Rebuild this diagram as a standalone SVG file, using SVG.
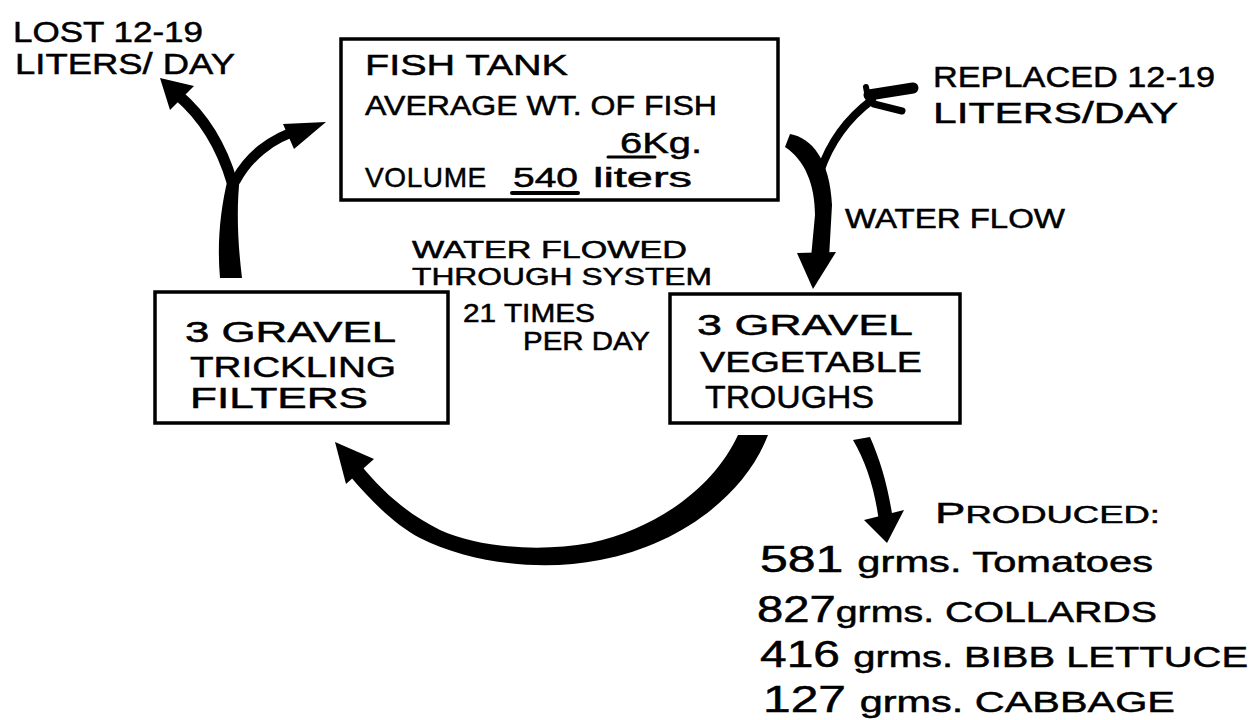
<svg xmlns="http://www.w3.org/2000/svg" width="1255" height="720" viewBox="0 0 1255 720">
<style>
  .box { fill: #fff; stroke: #000; stroke-width: 3.5; }
  .t { font-family: "Liberation Sans", Arial, sans-serif; fill: #000; stroke: #000; stroke-width: 0.5; }
  .ink { fill: #000; stroke: none; }
  .line { fill: none; stroke: #000; stroke-linecap: round; }
</style>
<rect x="0" y="0" width="1255" height="720" fill="#fff"/>

<g id="connectors">
  <!-- filters up to tank, with loss branch -->
  <path class="ink" d="M220,278 L242,278 C238,245 236,210 240,176 L228,178 C220,210 217,245 220,278 Z"/>
  <path class="line" stroke-width="11" d="M232,182 C222,148 205,118 178,95"/>
  <polygon class="ink" points="160,78 194,86 170,110"/>
  <path class="line" stroke-width="10" d="M236,180 C248,158 270,138 300,130"/>
  <polygon class="ink" points="326,122 283,124 294,149"/>

  <!-- tank down to troughs, with replacement branch -->
  <path class="ink" d="M785,147 L790,134 C812,138 830,160 832,205 L829,258 L811,258 L815,215 C815,185 805,160 785,147 Z"/>
  <polygon class="ink" points="797,253 836,252 813,289"/>
  <path class="line" stroke-width="8" d="M820,172 C830,142 848,118 872,100"/>
  <path class="line" stroke-width="11" d="M869,95 L913,88"/>
  <path class="line" stroke-width="7" d="M874,104 L902,111"/>
  <path class="line" stroke-width="6" d="M868,98 L866,87"/>

  <!-- troughs back to filters -->
  <path class="ink" d="M738,435 L768,435 C745,495 680,545 600,560 C540,572 470,563 420,538 C395,525 370,500 350,476 L360,464 C385,495 410,515 440,530 C480,548 540,552 590,543 C660,528 715,485 738,435 Z"/>
  <polygon class="ink" points="335,442 374,459 346,484"/>

  <!-- troughs to produce -->
  <path class="ink" d="M853,440 L870,437 C880,460 888,485 893,520 L879,522 C875,490 866,462 853,440 Z"/>
  <polygon class="ink" points="864,520 904,510 887,543"/>

  <text class="t" x="13" y="42" font-size="29" textLength="190" lengthAdjust="spacingAndGlyphs">LOST 12-19</text>
  <text class="t" x="15" y="74" font-size="29" textLength="220" lengthAdjust="spacingAndGlyphs">LITERS/ DAY</text>
  <text class="t" x="933" y="87" font-size="30" textLength="282" lengthAdjust="spacingAndGlyphs">REPLACED 12-19</text>
  <text class="t" x="933" y="123" font-size="30" textLength="245" lengthAdjust="spacingAndGlyphs">LITERS/DAY</text>
  <text class="t" x="845" y="228" font-size="27" textLength="220" lengthAdjust="spacingAndGlyphs">WATER FLOW</text>
  <text class="t" x="412" y="258" font-size="23" textLength="275" lengthAdjust="spacingAndGlyphs">WATER FLOWED</text>
  <text class="t" x="412" y="285" font-size="24" textLength="300" lengthAdjust="spacingAndGlyphs">THROUGH SYSTEM</text>
  <text class="t" x="463" y="322" font-size="25" textLength="132" lengthAdjust="spacingAndGlyphs">21 TIMES</text>
  <text class="t" x="523" y="350" font-size="25" textLength="127" lengthAdjust="spacingAndGlyphs">PER DAY</text>
</g>

<g id="fish-tank">
  <rect class="box" x="341" y="39" width="437" height="161"/>
  <text class="t" x="365" y="75" font-size="30" textLength="203" lengthAdjust="spacingAndGlyphs">FISH TANK</text>
  <text class="t" x="365" y="115" font-size="27" textLength="352" lengthAdjust="spacingAndGlyphs">AVERAGE WT. OF FISH</text>
  <text class="t" x="620" y="153" font-size="30" textLength="82" lengthAdjust="spacingAndGlyphs">6Kg.</text>
  <line class="line" stroke-width="3" x1="608" y1="157" x2="655" y2="157"/>
  <text class="t" y="187" font-size="28"><tspan x="365" letter-spacing="0.6">VOLUME</tspan> <tspan x="513" textLength="65" lengthAdjust="spacingAndGlyphs">540</tspan> <tspan x="593" textLength="99" lengthAdjust="spacingAndGlyphs">liters</tspan></text>
  <line class="line" stroke-width="4" x1="512" y1="193" x2="578" y2="193"/>
</g>

<g id="trickling-filters">
  <rect class="box" x="155" y="292" width="293" height="131"/>
  <text class="t" x="185" y="342" font-size="30" textLength="211" lengthAdjust="spacingAndGlyphs">3 GRAVEL</text>
  <text class="t" x="190" y="377" font-size="30" textLength="206" lengthAdjust="spacingAndGlyphs">TRICKLING</text>
  <text class="t" x="190" y="408" font-size="29" textLength="178" lengthAdjust="spacingAndGlyphs">FILTERS</text>
</g>

<g id="vegetable-troughs">
  <rect class="box" x="670" y="294" width="290" height="129"/>
  <text class="t" x="697" y="335" font-size="30" textLength="216" lengthAdjust="spacingAndGlyphs">3 GRAVEL</text>
  <text class="t" x="700" y="372" font-size="30" textLength="222" lengthAdjust="spacingAndGlyphs">VEGETABLE</text>
  <text class="t" x="705" y="408" font-size="31" textLength="169" lengthAdjust="spacingAndGlyphs">TROUGHS</text>
</g>

<g id="produced">
  <text class="t" x="935" y="523" font-size="30" textLength="225" lengthAdjust="spacingAndGlyphs"><tspan>P</tspan><tspan font-size="24">RODUCED:</tspan></text>
  <text class="t" x="760" y="572" font-size="36" textLength="393" lengthAdjust="spacingAndGlyphs">581 <tspan font-size="30">grms. Tomatoes</tspan></text>
  <text class="t" x="757" y="622" font-size="36" textLength="400" lengthAdjust="spacingAndGlyphs">827<tspan font-size="30">grms. COLLARDS</tspan></text>
  <text class="t" x="760" y="667" font-size="36" textLength="488" lengthAdjust="spacingAndGlyphs">416 <tspan font-size="30">grms. BIBB LETTUCE</tspan></text>
  <text class="t" x="763" y="712" font-size="36" textLength="412" lengthAdjust="spacingAndGlyphs">127 <tspan font-size="30">grms. CABBAGE</tspan></text>
</g>
</svg>
